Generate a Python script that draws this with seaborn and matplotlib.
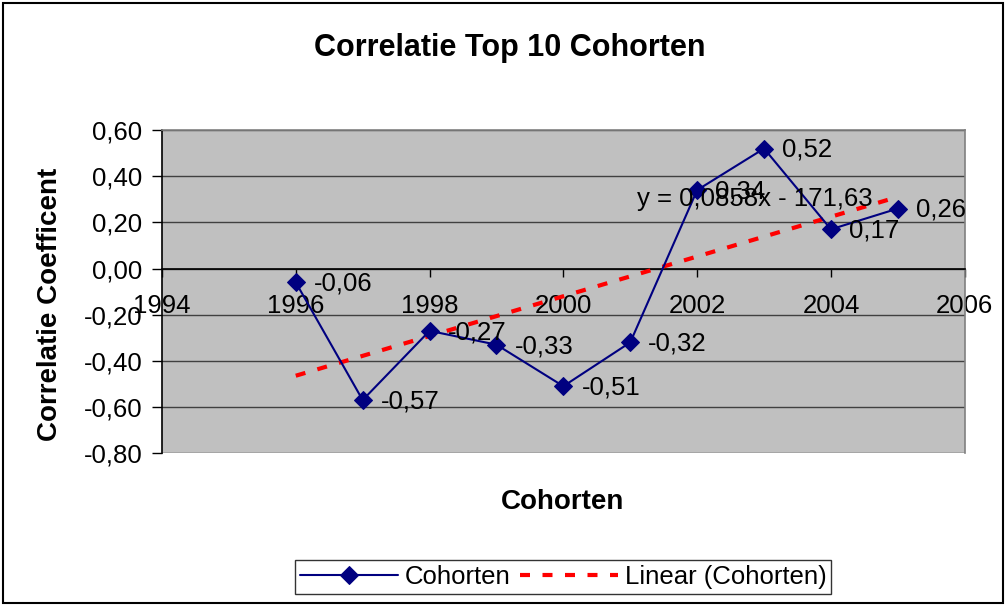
import numpy as np
import pandas as pd
import matplotlib
matplotlib.use('Agg')
import matplotlib.pyplot as plt
import seaborn as sns
from matplotlib.ticker import FuncFormatter, MultipleLocator
from matplotlib.patches import Rectangle

sns.set_style("white")
plt.rcParams['font.family'] = ['Liberation Sans', 'DejaVu Sans']
plt.rcParams['text.color'] = 'black'
plt.rcParams['axes.labelcolor'] = 'black'

# data
years = [1996, 1997, 1998, 1999, 2000, 2001, 2002, 2003, 2004, 2005]
corr = [-0.06, -0.57, -0.27, -0.33, -0.51, -0.32, 0.34, 0.52, 0.17, 0.26]
equation = "y = 0,0858x - 171,63"

df = pd.DataFrame({"Jaar": years, "Correlatie": corr})

fig = plt.figure(figsize=(10.06, 6.05), dpi=100)
ax = fig.add_axes([0.161, 0.251, 0.798, 0.534])
ax.set_facecolor('#C0C0C0')

sns.lineplot(data=df, x="Jaar", y="Correlatie", ax=ax, color='#000080', lw=1.5,
             marker='D', markersize=9, markeredgecolor='#000080', label='Cohorten', zorder=4)
sns.regplot(data=df, x="Jaar", y="Correlatie", ax=ax, scatter=False, ci=None, truncate=True,
            line_kws=dict(color='#FF0000', lw=3, linestyle=(0, (2.4, 3.0)), zorder=3))
ax.lines[-1].set_label('Linear (Cohorten)')

# data labels
for x, y in zip(years, corr):
    ax.annotate(f"{y:.2f}".replace('.', ','), (x, y), xytext=(13, -1), textcoords='offset points',
                va='center', ha='left', fontsize=18.5, zorder=5)

ax.text(2002.86, 0.30, equation, fontsize=18.5, ha='center', va='center', zorder=5)

ax.set_xlim(1994, 2006)
ax.set_ylim(-0.8, 0.6)
ax.xaxis.set_major_locator(MultipleLocator(2))
ax.yaxis.set_major_locator(MultipleLocator(0.2))
ax.yaxis.set_major_formatter(FuncFormatter(lambda v, p: f"{v:.2f}".replace('.', ',').replace('-0,00', '0,00')))
ax.grid(axis='y', color='#404040', lw=1)
ax.set_axisbelow(True)

ax.spines['bottom'].set_position(('data', 0))
ax.spines['bottom'].set_color('black')
ax.spines['left'].set_color('black')
ax.spines['top'].set_color('#808080')
ax.spines['right'].set_color('#808080')
for s in ax.spines.values():
    s.set_linewidth(1.2)
ax.tick_params(axis='both', which='major', labelsize=18.5, direction='out', width=1,
               colors='black', labelcolor='black', left=True, bottom=True)
ax.tick_params(axis='x', length=6, pad=12)
ax.tick_params(axis='y', length=7, pad=7)

fig.suptitle("Correlatie Top 10 Cohorten", fontsize=22, fontweight='bold', x=0.507, y=0.945)
ax.set_xlabel("")
ax.set_ylabel("")
fig.text(0.559, 0.17, "Cohorten", fontsize=20, fontweight='bold', ha='center', va='center')
fig.text(0.05, 0.497, "Correlatie Coefficent", fontsize=20, fontweight='bold', rotation=90,
         ha='center', va='center')

leg = ax.legend(loc='center', bbox_to_anchor=(0.56, 0.046), bbox_transform=fig.transFigure,
                ncol=2, fontsize=18.5, frameon=True, fancybox=False, edgecolor='black',
                handlelength=3.8, columnspacing=0.4, handletextpad=0.25, borderpad=0.2,
                borderaxespad=0)
leg.get_frame().set_linewidth(1)

fig.patches.append(Rectangle((0.003, 0.003), 0.994, 0.992, transform=fig.transFigure,
                             fill=False, edgecolor='black', lw=1.5))

fig.savefig('out.png', dpi=100)
